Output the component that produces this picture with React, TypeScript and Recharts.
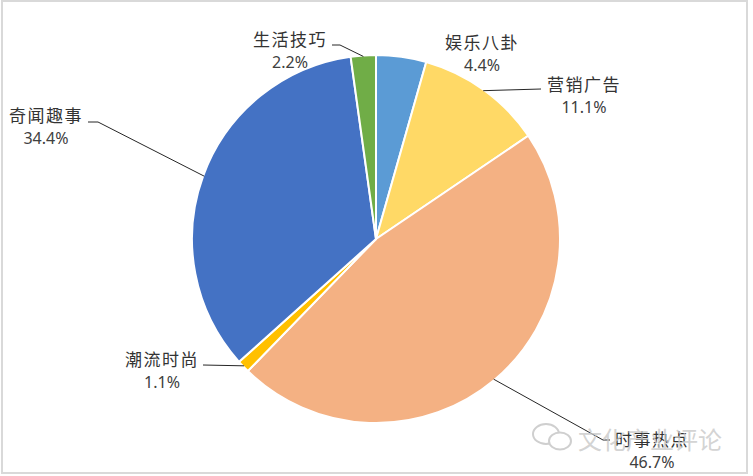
import React from 'react';
import { PieChart, Pie, Cell } from 'recharts';

// Share of article topics (%)
const categories = ['娱乐八卦', '营销广告', '时事热点', '潮流时尚', '奇闻趣事', '生活技巧'];
const shares = [4.4, 11.1, 46.7, 1.1, 34.4, 2.2];
const sliceColors = ['#5B9BD5', '#FFD966', '#F4B183', '#FFC000', '#4472C4', '#70AD47'];

const pieData = categories.map((name, i) => ({ name, value: shares[i] }));

// where Excel put each data label (text centre x, name baseline, leader elbow points)
const labelLayout: Record<string, { x: number; y: number; elbow?: [number, number][] }> = {
  娱乐八卦: { x: 482, y: 49 },
  营销广告: { x: 584, y: 91, elbow: [[541, 89]] },
  时事热点: { x: 652, y: 446, elbow: [[603, 440], [610, 440]] },
  潮流时尚: { x: 162, y: 366, elbow: [[203, 365]] },
  奇闻趣事: { x: 46, y: 122, elbow: [[98, 122], [88, 122]] },
  生活技巧: { x: 290, y: 46, elbow: [[340, 45], [332, 45]] },
};

const RAD = Math.PI / 180;

const renderLabel = (props: any) => {
  const { cx, cy, midAngle, outerRadius, name, value } = props;
  const layout = labelLayout[name];
  if (!layout) return null;
  const ex = cx + (outerRadius - 1) * Math.cos(-midAngle * RAD);
  const ey = cy + (outerRadius - 1) * Math.sin(-midAngle * RAD);
  const pts = layout.elbow ? [[ex, ey], ...layout.elbow] : null;
  return (
    <g>
      {pts && (
        <polyline
          points={pts.map((p) => p.join(',')).join(' ')}
          fill="none"
          stroke="#262626"
          strokeWidth={1}
        />
      )}
      <text
        x={layout.x}
        y={layout.y}
        textAnchor="middle"
        fontSize={17}
        letterSpacing={1.5}
        fill="#333333"
        fontFamily="'Noto Sans CJK SC', sans-serif"
      >
        {name}
      </text>
      <text
        x={layout.x}
        y={layout.y + 22}
        textAnchor="middle"
        fontSize={16}
        fill="#404040"
        fontFamily="'Noto Sans', 'DejaVu Sans', sans-serif"
      >
        {value.toFixed(1)}%
      </text>
    </g>
  );
};

export default function App() {
  return (
    <div style={{ position: 'relative', width: 753, height: 476, background: '#ffffff' }}>
      <style>{`body { margin: 0; }`}</style>
      <div
        style={{
          position: 'absolute',
          left: 1,
          top: 0,
          width: 747,
          height: 474,
          border: '2px solid #d9d9d9',
          boxSizing: 'border-box',
        }}
      />
      <PieChart width={753} height={476} margin={{ top: 0, right: 0, bottom: 0, left: 0 }}>
        <Pie
          data={pieData}
          dataKey="value"
          nameKey="name"
          cx={376}
          cy={239}
          outerRadius={184}
          startAngle={90}
          endAngle={-270}
          stroke="#ffffff"
          strokeWidth={2}
          label={renderLabel}
          labelLine={false}
          isAnimationActive={false}
        >
          {pieData.map((d, i) => (
            <Cell key={d.name} fill={sliceColors[i]} />
          ))}
        </Pie>
      </PieChart>
      {/* watermark */}
      <svg
        width={753}
        height={476}
        style={{ position: 'absolute', left: 0, top: 0, pointerEvents: 'none' }}
      >
        <g fill="none" stroke="#cfcfcf" strokeWidth={2}>
          <ellipse cx={546} cy={434} rx={13} ry={10} />
          <ellipse cx={560} cy={441} rx={11} ry={8.5} fill="#ffffff" />
        </g>
        <text
          x={578}
          y={449}
          fontSize={24}
          fill="#c8c8c8"
          fillOpacity={0.8}
          fontFamily="'Noto Sans CJK SC', sans-serif"
        >
          文化产业评论
        </text>
      </svg>
    </div>
  );
}
